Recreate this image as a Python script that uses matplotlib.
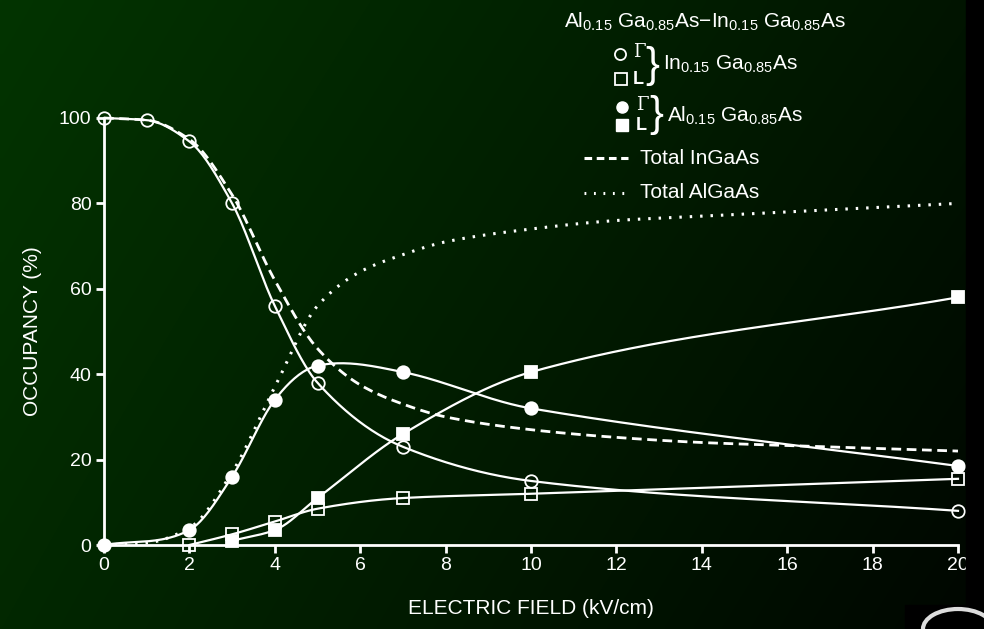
import numpy as np
import matplotlib.pyplot as plt
from matplotlib.lines import Line2D
from matplotlib.patches import Rectangle, Ellipse

plt.rcParams['font.family'] = ['Liberation Sans', 'DejaVu Sans']
plt.rcParams['mathtext.default'] = 'regular'

# data (field in kV/cm, occupancy in %)
in_g_x = [0, 1, 2, 3, 4, 5, 7, 10, 20]
in_g_y = [100, 99.5, 94.5, 80, 56, 38, 23, 15, 8]
in_l_x = [2, 3, 4, 5, 7, 10, 20]
in_l_y = [0, 2.5, 5.5, 8.5, 11, 12, 15.5]
al_g_x = [0, 2, 3, 4, 5, 7, 10, 20]
al_g_y = [0, 3.5, 16, 34, 42, 40.5, 32, 18.5]
al_l_x = [3, 4, 5, 7, 10, 20]
al_l_y = [1, 3.5, 11, 26, 40.5, 58]
tot_in_x = [0, 1, 2, 3, 4, 5, 6, 7, 8, 10, 12, 14, 16, 20]
tot_in_y = [100, 99.5, 95, 82, 62, 46, 37.5, 33, 30, 27, 25.2, 24, 23.3, 22]
tot_al_x = [0, 1, 2, 3, 4, 5, 6, 7, 8, 10, 12, 14, 16, 18, 20]
tot_al_y = [0, 0.5, 4, 17, 37, 56, 64, 68, 71, 74, 76, 77, 78, 79, 80]

xticks = [0, 2, 4, 6, 8, 10, 12, 14, 16, 18, 20]
yticks = [0, 20, 40, 60, 80, 100]


def smooth(x, y, monotone=True, n=400):
    # cubic hermite through the points; monotone (Fritsch-Carlson) or catmull-rom tangents
    x = np.asarray(x, float)
    y = np.asarray(y, float)
    h = np.diff(x)
    d = np.diff(y) / h
    m = np.zeros_like(y)
    for k in range(1, len(x) - 1):
        if not monotone:
            m[k] = (y[k+1] - y[k-1]) / (x[k+1] - x[k-1])
        elif d[k-1] * d[k] > 0:
            w1 = 2*h[k] + h[k-1]
            w2 = h[k] + 2*h[k-1]
            m[k] = (w1 + w2) / (w1/d[k-1] + w2/d[k])
    m[0] = d[0]
    m[-1] = d[-1]
    xs = np.linspace(x[0], x[-1], n)
    i = np.clip(np.searchsorted(x, xs) - 1, 0, len(h) - 1)
    t = (xs - x[i]) / h[i]
    h00 = 2*t**3 - 3*t**2 + 1
    h10 = t**3 - 2*t**2 + t
    h01 = -2*t**3 + 3*t**2
    h11 = t**3 - t**2
    ys = h00*y[i] + h10*h[i]*m[i] + h01*y[i+1] + h11*h[i]*m[i+1]
    return xs, ys


W, H = 984, 629
fig = plt.figure(figsize=(W/100, H/100), dpi=100)

# background gradient
bg = fig.add_axes([0, 0, 1, 1], zorder=-10)
u = np.linspace(0, 1, 200)[None, :]
v = np.linspace(0, 1, 130)[:, None]
g = 52*(1-u)*(1-v) + 20*u*(1-v) + 40*(1-u)*v + 6*u*v
img = np.zeros((130, 200, 3))
img[..., 1] = g / 255
img[..., 0] = g / 255 * 0.05
bg.imshow(img, aspect='auto', extent=[0, 1, 0, 1], interpolation='bilinear')
bg.axis('off')

ax = fig.add_axes([104/W, 1-545/H, (958-104)/W, (545-118)/H])
ax.patch.set_alpha(0)
wc = 'white'
lw = 1.6

xs, ys = smooth(tot_in_x, tot_in_y)
ax.plot(xs, ys, color=wc, lw=2.0, ls=(0, (3.5, 2)), clip_on=False)
xs, ys = smooth(tot_al_x, tot_al_y)
ax.plot(xs, ys, color=wc, lw=2.2, ls=(0, (0.8, 2.6)), clip_on=False)

series = [(in_g_x, in_g_y, 'o', 'none', True),
          (in_l_x, in_l_y, 's', 'none', True),
          (al_g_x, al_g_y, 'o', wc, False),
          (al_l_x, al_l_y, 's', wc, True)]
for xv, yv, mk, fc, mono in series:
    xs, ys = smooth(xv, yv, monotone=mono)
    ax.plot(xs, ys, color=wc, lw=lw, clip_on=False)
    ax.plot(xv, yv, ls='none', marker=mk, ms=9, mfc=fc, mec=wc, mew=1.3,
            clip_on=False, zorder=5)

ax.set_xlim(0, 20)
ax.set_ylim(0, 100)
ax.set_xticks(xticks)
ax.set_yticks(yticks)
for s in ['top', 'right']:
    ax.spines[s].set_visible(False)
for s in ['left', 'bottom']:
    ax.spines[s].set_color(wc)
    ax.spines[s].set_linewidth(2)
ax.tick_params(colors=wc, width=2, length=6, labelsize=14, pad=3)
ax.set_xlabel('ELECTRIC FIELD (kV/cm)', color=wc, fontsize=15, labelpad=18)
ax.set_ylabel('OCCUPANCY (%)', color=wc, fontsize=15, labelpad=12)


def ft(px, py, s, **kw):
    fig.text(px/W, 1-py/H, s, color=wc, va='center', **kw)


def fl(xp, yp, **kw):
    fig.add_artist(Line2D([p/W for p in xp], [1-p/H for p in yp], color=wc, **kw))


# legend drawn by hand
fs = 15
ft(705, 22, r'Al$_{0.15}$ Ga$_{0.85}$As$-$In$_{0.15}$ Ga$_{0.85}$As', ha='center', fontsize=fs)
fl([620], [54], marker='o', ms=8, mfc='none', mew=1.3, ls='none')
fl([621], [79], marker='s', ms=8, mfc='none', mew=1.3, ls='none')
fl([622], [107], marker='o', ms=8, mfc=wc, ls='none')
fl([622], [125], marker='s', ms=8, mfc=wc, ls='none')
ft(633, 52, 'Γ', fontsize=13, family='DejaVu Serif')
ft(633, 79, 'L', fontsize=13, fontweight='bold')
ft(636, 105, 'Γ', fontsize=13, family='DejaVu Serif')
ft(636, 125, 'L', fontsize=13, fontweight='bold')
ft(645, 66, '}', fontsize=30, fontweight='light')
ft(649, 115, '}', fontsize=30, fontweight='light')
ft(663, 64, r'In$_{0.15}$ Ga$_{0.85}$As', fontsize=fs)
ft(667, 116, r'Al$_{0.15}$ Ga$_{0.85}$As', fontsize=fs)
fl([584, 628], [158, 158], lw=2.2, ls=(0, (2.5, 1.5)))
ft(640, 158, 'Total InGaAs', fontsize=fs)
fl([584, 628], [193, 193], lw=2.2, ls=(0, (0.6, 2.5)))
ft(640, 193, 'Total AlGaAs', fontsize=fs)

# cropped right edge and corner logo
fig.add_artist(Rectangle((966/W, 0), 1, 1, transform=fig.transFigure, color='black', zorder=20))
fig.add_artist(Rectangle((905/W, 0), 1, (629-605)/H, transform=fig.transFigure, color='black', zorder=20))
fig.add_artist(Ellipse((958/W, 0), 70/W, 40/H, transform=fig.transFigure, fill=False,
                       ec='#dddddd', lw=3, zorder=21))

fig.savefig('out.png', dpi=100)
